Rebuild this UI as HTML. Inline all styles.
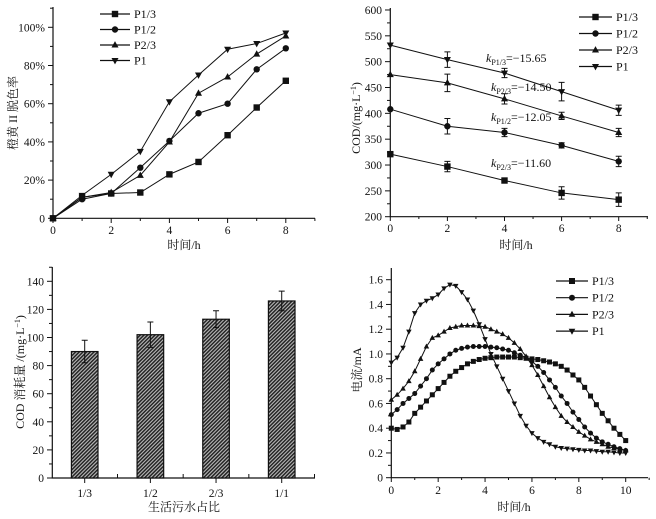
<!DOCTYPE html>
<html><head><meta charset="utf-8"><style>
body{margin:0;background:#fff}
svg text{font-family:"Liberation Serif","Noto Serif CJK SC","Noto Sans CJK SC",serif;fill:#111}
</style></head><body>
<svg id="s" width="656" height="514" xmlns="http://www.w3.org/2000/svg">
<defs><pattern id="hatch" width="2.6" height="2.6" patternUnits="userSpaceOnUse" patternTransform="rotate(45)"><rect width="2.6" height="2.6" fill="#bbb"/><rect width="1.5" height="2.6" fill="#222"/></pattern></defs>
</svg>
<script>
// Panel A: decolorization
const aX=[0,1,2,3,4,5,6,7,8];
const aP13=[0,11,13,13.5,23,29.5,43.5,58,72];
const aP12=[0,10,13,26.5,40.5,55,60,78,89];
const aP23=[0,11,13.5,22.5,40,65.5,74,86,95.5];
const aP1=[0,12,23,35,61,75,88.5,91.5,97];
const aYTicks=["0","20%","40%","60%","80%","100%"];
// Panel B: COD
const bX=[0,2,4,6,8];
const bP13=[321,297,270,246,233];const bE13=[0,10,4,12,13];
const bP12=[408,375,363,338,307];const bE12=[0,15,8,5,10];
const bP23=[475,459,428,395,363];const bE23=[0,17,10,7,8];
const bP1=[532,504,478,442,406];const bE1=[0,15,9,18,10];
const bK=["−15.65","−14.50","−12.05","−11.60"];
const bKSub=["P1/3","P2/3","P1/2","P2/3"];
// Panel C: bars
const cCats=["1/3","1/2","2/3","1/1"];
const cVals=[90,102,113,126];
const cErr=[8,9,6,7];
// Panel D: current, t = 0..10 step 0.25
const dP1=[0.93,0.97,1.05,1.18,1.33,1.40,1.43,1.45,1.48,1.53,1.56,1.55,1.50,1.44,1.35,1.24,1.12,1.00,0.90,0.80,0.70,0.60,0.50,0.42,0.36,0.32,0.29,0.27,0.25,0.24,0.235,0.23,0.225,0.22,0.22,0.215,0.21,0.21,0.205,0.20,0.20];
const dP23=[0.63,0.67,0.72,0.78,0.86,0.96,1.06,1.13,1.15,1.18,1.21,1.22,1.23,1.23,1.23,1.225,1.22,1.20,1.18,1.16,1.13,1.09,1.04,0.98,0.91,0.83,0.74,0.65,0.57,0.50,0.45,0.41,0.37,0.34,0.31,0.29,0.27,0.25,0.24,0.23,0.22];
const dP12=[0.51,0.55,0.60,0.64,0.68,0.74,0.80,0.87,0.92,0.96,1.00,1.03,1.045,1.055,1.06,1.06,1.06,1.055,1.05,1.04,1.03,1.01,0.99,0.97,0.94,0.90,0.85,0.79,0.73,0.66,0.60,0.53,0.47,0.41,0.36,0.32,0.29,0.27,0.25,0.235,0.22];
const dP13=[0.40,0.39,0.41,0.45,0.52,0.57,0.62,0.67,0.72,0.77,0.82,0.86,0.89,0.92,0.94,0.955,0.965,0.97,0.975,0.975,0.975,0.975,0.97,0.965,0.96,0.955,0.945,0.935,0.92,0.90,0.87,0.83,0.79,0.73,0.66,0.59,0.52,0.46,0.40,0.35,0.30];
const seriesNames=["P1/3","P1/2","P2/3","P1"];
const markers=["square","circle","up","down"];

const S=document.getElementById('s');const NS="http://www.w3.org/2000/svg";
function el(t,a,p){const e=document.createElementNS(NS,t);for(const k in a)e.setAttribute(k,a[k]);(p||S).appendChild(e);return e;}
function txt(x,y,s,a,p){const e=el('text',Object.assign({x:x,y:y,'font-size':11.5},a||{}),p);e.textContent=s;return e;}
function marker(g,type,x,y,r){
  let m;
  if(type==="square")m=el('rect',{x:x-r,y:y-r,width:2*r,height:2*r,fill:'#111'},g);
  else if(type==="circle")m=el('circle',{cx:x,cy:y,r:r,fill:'#111'},g);
  else if(type==="up")m=el('polygon',{points:`${x},${y-r*1.2} ${x-r*1.1},${y+r*0.8} ${x+r*1.1},${y+r*0.8}`,fill:'#111'},g);
  else m=el('polygon',{points:`${x},${y+r*1.2} ${x-r*1.1},${y-r*0.8} ${x+r*1.1},${y-r*0.8}`,fill:'#111'},g);
  
  
}
function axes(g,x0,y0,x1,y1){
  const a=el('path',{d:`M${x0},${y1} L${x0},${y0} L${x1},${y0}`,stroke:'#111',fill:'none','stroke-width':1.2},g);
  
  
}
function legend(g,lx,ty,dy,len,r){
  seriesNames.forEach((n,i)=>{
    const y=ty+i*dy;
    const lg=el('g',{},g);
    
    
    el('line',{x1:lx,y1:y,x2:lx+len,y2:y,stroke:'#111','stroke-width':1.2},lg);
    marker(lg,markers[i],lx+len/2,y,r);
    txt(lx+len+4,y+4,n,{'font-size':12},lg);
  });
}
function series(g,xs,ys,fx,fy,m,r,name){
  const sg=el('g',{},g);
  
  
  el('polyline',{points:xs.map((x,i)=>fx(x)+','+fy(ys[i])).join(' '),fill:'none',stroke:'#111','stroke-width':1},sg);
  xs.forEach((x,i)=>marker(sg,m,fx(x),fy(ys[i]),r));
  return sg;
}
function ylab(g,x,y,s){txt(0,0,s,{transform:`translate(${x},${y}) rotate(-90)`,'text-anchor':'middle','font-size':12},g);}

// ---------- Panel A ----------
(function(){
  const g=el('g',{});
  const fx=v=>53+v*29.1, fy=v=>218.3-v*1.91;
  axes(g,53,218.3,315,7);
  for(let v=0;v<=9;v++){el('line',{x1:fx(v),y1:218.3,x2:fx(v),y2:v%2==0?223:221,stroke:'#111'},g);if(v%2==0&&v<=8)txt(fx(v),234,String(v),{'text-anchor':'middle'},g);}
  for(let v=0;v<=110;v+=10){el('line',{x1:53,y1:fy(v),x2:v%20==0?48:50,y2:fy(v),stroke:'#111'},g);}
  aYTicks.forEach((t,i)=>txt(45,fy(i*20)+4,t,{'text-anchor':'end'},g));
  txt(184,249,'时间/h',{'text-anchor':'middle','font-size':12},g);
  ylab(g,17,113,'橙黄 II 脱色率');
  [aP13,aP12,aP23,aP1].forEach((d,i)=>series(g,aX,d,fx,fy,markers[i],3.2,'series-'+seriesNames[i].replace('/','-')));
  legend(g,100,14,15.5,30,3.2);
})();

// ---------- Panel B ----------
(function(){
  const g=el('g',{});
  const fx=v=>390.3+v*28.55, fy=v=>216.7-(v-200)*0.5168;
  axes(g,390.3,216.7,648,8);
  for(let v=0;v<=9;v++){el('line',{x1:fx(v),y1:216.7,x2:fx(v),y2:v%2==0?221:219,stroke:'#111'},g);if(v%2==0&&v<=8)txt(fx(v),232,String(v),{'text-anchor':'middle'},g);}
  for(let v=200;v<=600;v+=25){el('line',{x1:390.3,y1:fy(v),x2:v%50==0?385:387,y2:fy(v),stroke:'#111'},g);if(v%50==0)txt(382,fy(v)+4,String(v),{'text-anchor':'end'},g);}
  txt(516,249,'时间/h',{'text-anchor':'middle','font-size':12},g);
  const yl=txt(0,0,'',{transform:'translate(360,118) rotate(-90)','text-anchor':'middle','font-size':12},g);
  yl.innerHTML='COD/(mg·L<tspan dy="-4" font-size="8">−1</tspan><tspan dy="4">)</tspan>';
  [[bP13,bE13],[bP12,bE12],[bP23,bE23],[bP1,bE1]].forEach((d,i)=>{
    const sg=series(g,bX,d[0],fx,fy,markers[i],3.2,'series-'+seriesNames[i].replace('/','-'));
    bX.forEach((x,j)=>{if(d[1][j]>0){const X=fx(x),a=fy(d[0][j]-d[1][j]),b=fy(d[0][j]+d[1][j]);el('path',{d:`M${X},${a}V${b}M${X-3},${a}h6M${X-3},${b}h6`,stroke:'#111',fill:'none'},sg);}});
  });
  const ky=[62,91,121,167];
  bK.forEach((k,i)=>{const t=txt(486+(i?5:0),ky[i],'',{'font-size':12},g);
    t.innerHTML=`<tspan font-style="italic">k</tspan><tspan dy="3" font-size="8">${bKSub[i]}</tspan><tspan dy="-3">=${k}</tspan>`;});
  legend(g,579,17,16.5,33,3.2);
})();

// ---------- Panel C ----------
(function(){
  const g=el('g',{});
  const fy=v=>478-v*1.405;const fx=i=>84.7+i*65.67;
  axes(g,52.3,478,315,267);
  for(let v=0;v<=150;v+=10){el('line',{x1:52.3,y1:fy(v),x2:v%20==0?47:49,y2:fy(v),stroke:'#111'},g);if(v%20==0)txt(44,fy(v)+4,String(v),{'text-anchor':'end'},g);}
  for(let i=0;i<4;i++){txt(fx(i),497,cCats[i],{'text-anchor':'middle'},g);el('line',{x1:fx(i)+32.8,y1:478,x2:fx(i)+32.8,y2:474,stroke:'#111'},g);el('line',{x1:fx(i),y1:478,x2:fx(i),y2:483,stroke:'#111'},g);}
  cVals.forEach((v,i)=>{
    const b=el('rect',{x:fx(i)-13.3,y:fy(v),width:26.6,height:478-fy(v),fill:'url(#hatch)',stroke:'#111','stroke-width':1.2},g);
    
    
    const X=fx(i),a=fy(v-cErr[i]),c=fy(v+cErr[i]);
    el('path',{d:`M${X},${a}V${c}M${X-3},${a}h6M${X-3},${c}h6`,stroke:'#111',fill:'none'},g);
  });
  txt(184,511,'生活污水占比',{'text-anchor':'middle','font-size':12},g);
  const yl=txt(0,0,'',{transform:'translate(24,372) rotate(-90)','text-anchor':'middle','font-size':12},g);
  yl.innerHTML='COD 消耗量 /(mg·L<tspan dy="-4" font-size="8">−1</tspan><tspan dy="4">)</tspan>';
})();

// ---------- Panel D ----------
(function(){
  const g=el('g',{});
  const fx=v=>391.3+v*23.44, fy=v=>477.7-v*123.75;
  axes(g,391.3,477.7,648,268);
  for(let v=0;v<=11;v++){el('line',{x1:fx(v),y1:477.7,x2:fx(v),y2:v%2==0?482:480,stroke:'#111'},g);if(v%2==0&&v<=10)txt(fx(v),494,String(v),{'text-anchor':'middle'},g);}
  for(let v=0;v<=16;v++){const y=fy(v/10);el('line',{x1:391.3,y1:y,x2:v%2==0?386:388,y2:y,stroke:'#111'},g);if(v%2==0)txt(383,y+4,v==0?'0':(v/10).toFixed(1),{'text-anchor':'end'},g);}
  txt(514,511,'时间/h',{'text-anchor':'middle','font-size':12},g);
  ylab(g,361,370,'电流/mA');
  const t=dP1.map((_,i)=>i*0.25);
  [dP13,dP12,dP23,dP1].forEach((d,i)=>series(g,t,d,fx,fy,markers[i],2.5,'series-'+seriesNames[i].replace('/','-')));
  legend(g,556,281,16.7,32,3);
})();
</script>
</body></html>
